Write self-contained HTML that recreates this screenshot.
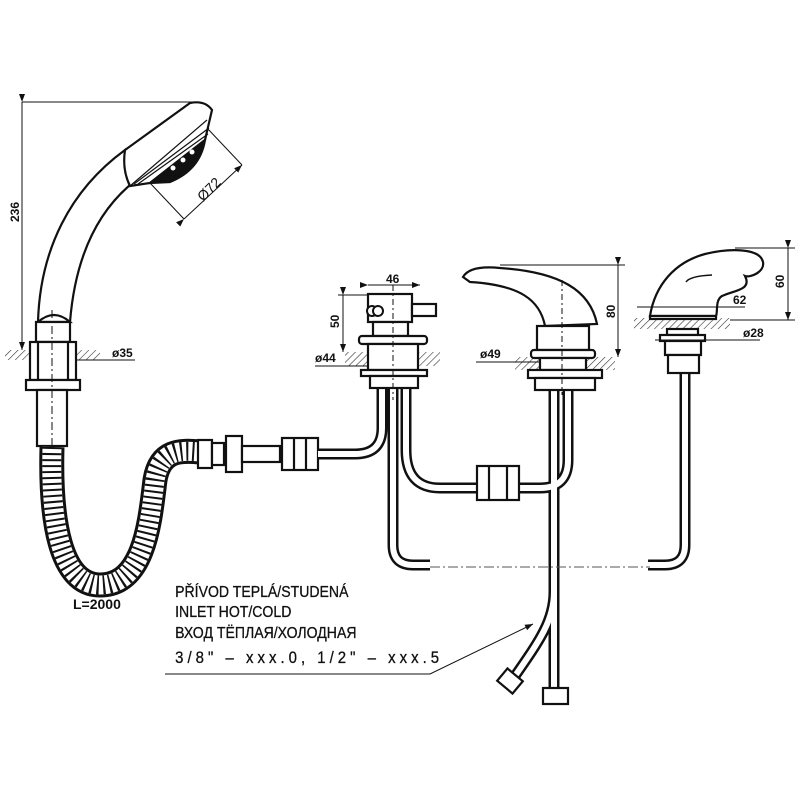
<!DOCTYPE html>
<html><head><meta charset="utf-8"><style>
html,body{margin:0;padding:0;background:#fff}
svg{display:block}
text{font-family:"Liberation Sans","DejaVu Sans",sans-serif;fill:#111}
</style></head><body>
<svg width="800" height="800" viewBox="0 0 800 800" xmlns="http://www.w3.org/2000/svg">
<defs>
<pattern id="h" width="5" height="5" patternUnits="userSpaceOnUse" patternTransform="rotate(45)">
<rect width="5" height="5" fill="#fff"/><line x1="0" y1="0" x2="0" y2="5" stroke="#333" stroke-width="1.2"/></pattern>
<marker id="a" markerWidth="8" markerHeight="6" refX="8" refY="3" orient="auto"><path d="M0,0L8,3L0,6z" fill="#111"/></marker>
</defs>
<g fill="none" stroke="#111" stroke-width="1">
<line x1="22" y1="102" x2="195" y2="102"/>
<line x1="22" y1="102" x2="22" y2="350" marker-start="url(#a)" marker-end="url(#a)"/>
<line x1="207" y1="128" x2="242" y2="165"/>
<line x1="150" y1="183" x2="184" y2="219"/>
<line x1="184" y1="219" x2="242" y2="165" marker-start="url(#a)" marker-end="url(#a)"/>
</g>
<text transform="translate(19,222) rotate(-90)" font-size="12" font-weight="bold">236</text>
<text transform="translate(203,202) rotate(-45)" font-size="14">Ø72</text>
<g fill="#fff" stroke="#111" stroke-width="2.2">
<path d="M38,322 C40,250 70,190 125,150 L130,185 C95,215 75,260 70,322 Z"/>
<path d="M125,150 L190,103 Q205,100 212,110 L205,140 L150,183 L130,186 Q122,170 125,150 Z"/>
<path d="M150,183 L205,140 Q200,170 170,182 Z" fill="#111"/>
<path d="M38,322 Q54,308 70,322 Z"/>
<rect x="36" y="322" width="34" height="20"/>
</g>
<g stroke="#111" stroke-width="1.2">
<line x1="130" y1="186" x2="207" y2="120"/><line x1="134" y1="184" x2="209" y2="128"/><line x1="138" y1="184" x2="208" y2="134"/>
</g>
<circle cx="173" cy="168" r="2.5" fill="#fff"/><circle cx="183" cy="160" r="2.5" fill="#fff"/><circle cx="192" cy="152" r="2.5" fill="#fff"/>
<rect x="5" y="350" width="95" height="10" fill="url(#h)"/>
<g fill="#fff" stroke="#111" stroke-width="2.2">
<rect x="30" y="342" width="46" height="38"/>
<rect x="38" y="342" width="30" height="38"/>
<rect x="26" y="380" width="54" height="10"/>
<rect x="37" y="390" width="30" height="56"/>
</g>
<line x1="52" y1="310" x2="52" y2="445" stroke="#111" stroke-dasharray="8 3 2 3"/>
<line x1="75" y1="360" x2="135" y2="360" stroke="#111"/>
<text x="112" y="357" font-size="12" font-weight="bold">ø35</text>
<path d="M52,447 C50,520 60,585 100,585 C145,585 150,520 155,480 C160,450 180,450 200,452" fill="none" stroke="#111" stroke-width="25"/>
<path d="M52,447 C50,520 60,585 100,585 C145,585 150,520 155,480 C160,450 180,450 200,452" fill="none" stroke="#fff" stroke-width="19"/>
<path d="M52,447 C50,520 60,585 100,585 C145,585 150,520 155,480 C160,450 180,450 200,452" fill="none" stroke="#111" stroke-width="19" stroke-dasharray="2 4"/>
<text x="73" y="609" font-size="14" font-weight="bold">L=2000</text>
<g fill="#fff" stroke="#111" stroke-width="2.2">
<rect x="198" y="440" width="14" height="28"/><rect x="212" y="443" width="12" height="22"/>
<rect x="226" y="436" width="16" height="36"/><rect x="242" y="446" width="38" height="16"/>
<rect x="282" y="438" width="36" height="32"/>
<line x1="294" y1="438" x2="294" y2="470"/><line x1="306" y1="438" x2="306" y2="470"/>
</g>
<g fill="none" stroke="#111" stroke-width="11">
<path d="M318,454 L355,454 Q382,454 382,428 L382,388"/>
<path d="M393,388 L393,545 Q393,565 413,565 L430,565"/>
<path d="M406,388 L406,450 Q406,488 440,488 L540,488 Q568,488 568,460 L568,388"/>
<path d="M554,388 L554,592 C554,620 540,640 515,676"/>
<path d="M554,590 L554,688"/>
<path d="M685,372 L685,545 Q685,565 665,565 L648,565"/>
</g>
<g fill="none" stroke="#fff" stroke-width="6">
<path d="M318,454 L355,454 Q382,454 382,428 L382,388"/>
<path d="M393,388 L393,545 Q393,565 413,565 L430,565"/>
<path d="M406,388 L406,450 Q406,488 440,488 L540,488 Q568,488 568,460 L568,388"/>
<path d="M554,388 L554,592 C554,620 540,640 515,676"/>
<path d="M554,590 L554,688"/>
<path d="M685,372 L685,545 Q685,565 665,565 L648,565"/>
</g>
<line x1="430" y1="567" x2="650" y2="567" stroke="#555" stroke-dasharray="10 3 2 3"/>
<g fill="#fff" stroke="#111" stroke-width="2.2">
<rect x="477" y="466" width="42" height="34"/><line x1="489" y1="466" x2="489" y2="500"/><line x1="507" y1="466" x2="507" y2="500"/>
<rect x="543" y="688" width="25" height="16"/>
<rect x="500" y="673" width="20" height="16" transform="rotate(40 510 681)"/>
</g>
<rect x="345" y="352" width="95" height="14" fill="url(#h)"/>
<g fill="#fff" stroke="#111" stroke-width="2.2">
<rect x="368" y="294" width="44" height="28"/>
<rect x="412" y="304" width="24" height="12"/>
<rect x="373" y="322" width="35" height="14"/>
<rect x="359" y="336" width="68" height="8" rx="3"/>
<rect x="368" y="344" width="50" height="26"/>
<rect x="361" y="370" width="66" height="6"/>
<rect x="370" y="376" width="48" height="12"/>
</g>
<circle cx="372" cy="311" r="5" fill="#fff" stroke="#111" stroke-width="2"/><circle cx="378" cy="311" r="5" fill="#fff" stroke="#111" stroke-width="2"/>
<g stroke="#111" stroke-width="1" fill="none">
<line x1="368" y1="285" x2="420" y2="285" marker-start="url(#a)" marker-end="url(#a)"/>
<line x1="343" y1="295" x2="343" y2="352" marker-start="url(#a)" marker-end="url(#a)"/>
<line x1="338" y1="295" x2="368" y2="295"/>
<line x1="315" y1="366" x2="368" y2="366"/>
<line x1="393" y1="285" x2="393" y2="400" stroke-dasharray="6 3 2 3"/>
</g>
<text x="386" y="283" font-size="12" font-weight="bold">46</text>
<text transform="translate(339,328) rotate(-90)" font-size="12" font-weight="bold">50</text>
<text x="315" y="362" font-size="12" font-weight="bold">ø44</text>
<rect x="515" y="357" width="100" height="13" fill="url(#h)"/>
<g fill="#fff" stroke="#111" stroke-width="2.2">
<path d="M463,277 Q470,265 500,268 C560,272 590,290 597,324 L545,326 C540,300 520,285 470,282 Z"/>
<rect x="537" y="326" width="52" height="24"/>
<rect x="531" y="350" width="64" height="8" rx="3"/>
<rect x="540" y="358" width="46" height="12"/>
<rect x="528" y="370" width="74" height="8"/>
<rect x="535" y="378" width="60" height="12"/>
</g>
<g stroke="#111" stroke-width="1" fill="none">
<line x1="500" y1="265" x2="625" y2="265"/>
<line x1="618" y1="265" x2="618" y2="357" marker-start="url(#a)" marker-end="url(#a)"/>
<line x1="476" y1="362" x2="540" y2="362"/>
<line x1="562" y1="280" x2="562" y2="395" stroke-dasharray="6 3 2 3"/>
</g>
<text transform="translate(615,318) rotate(-90)" font-size="12" font-weight="bold">80</text>
<text x="480" y="358" font-size="12" font-weight="bold">ø49</text>
<rect x="634" y="318" width="96" height="11" fill="url(#h)"/>
<g fill="#fff" stroke="#111" stroke-width="2.2">
<path d="M650,316 C655,285 675,262 705,254 C730,248 760,248 763,262 C765,272 750,278 745,276 C752,290 735,290 722,296 C715,300 718,312 716,316 Z"/>
<rect x="650" y="316" width="66" height="3"/>
<rect x="667" y="329" width="31" height="6"/>
<rect x="660" y="335" width="45" height="6"/>
<rect x="665" y="341" width="36" height="14"/>
<rect x="668" y="355" width="31" height="18"/>
</g>
<path d="M686,282 Q690,276 712,275" fill="none" stroke="#111" stroke-width="1.5"/>
<g stroke="#111" stroke-width="1" fill="none">
<line x1="735" y1="248" x2="795" y2="248"/><line x1="730" y1="320" x2="795" y2="320"/>
<line x1="788" y1="248" x2="788" y2="320" marker-start="url(#a)" marker-end="url(#a)"/>
<line x1="637" y1="307" x2="745" y2="307"/>
<line x1="655" y1="340" x2="760" y2="340"/>
</g>
<text transform="translate(784,288) rotate(-90)" font-size="12" font-weight="bold">60</text>
<text x="733" y="304" font-size="12" font-weight="bold">62</text>
<text x="743" y="337" font-size="12" font-weight="bold">ø28</text>
<g font-size="16" transform="scale(0.88,1)" stroke="#111" stroke-width="0.3">
<text x="199" y="597">PŘÍVOD  TEPLÁ/STUDENÁ</text>
<text x="199" y="617">INLET  HOT/COLD</text>
<text x="199" y="638">ВХОД  ТЁПЛАЯ/ХОЛОДНАЯ</text>
<text x="199" y="663" font-size="17" textLength="300" lengthAdjust="spacing">3/8" – xxx.0, 1/2" – xxx.5</text>
</g>
<polyline points="165,674 430,674 533,624" fill="none" stroke="#111" stroke-width="1" marker-end="url(#a)"/>
</svg>
</body></html>
